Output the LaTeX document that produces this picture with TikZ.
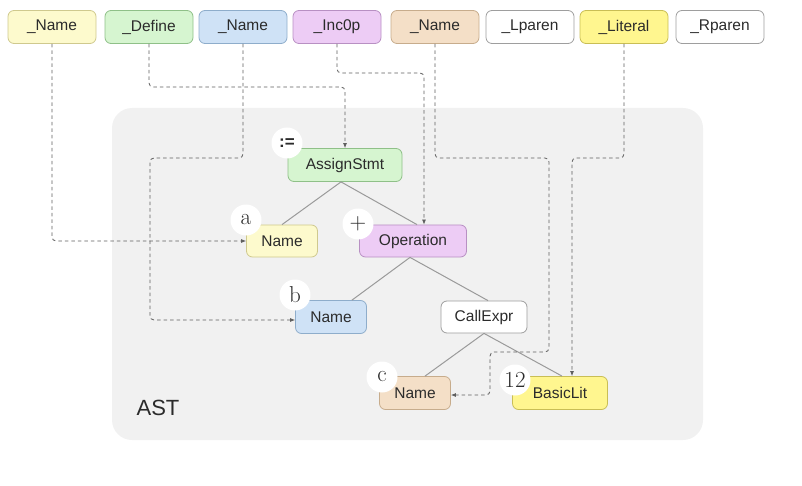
\documentclass[tikz,border=0pt]{standalone}
\usepackage{fontspec}
\newfontfamily\sansf{Liberation Sans}
\usetikzlibrary{arrows.meta,calc}
\definecolor{txt}{HTML}{2B2B2B}
\definecolor{bgc}{HTML}{F1F1F1}
\definecolor{ylf}{HTML}{FDFACD}\definecolor{yld}{HTML}{CFC98E}
\definecolor{grf}{HTML}{D6F5D0}\definecolor{grd}{HTML}{8FC088}
\definecolor{blf}{HTML}{CFE2F6}\definecolor{bld}{HTML}{8EADCB}
\definecolor{puf}{HTML}{EDCCF5}\definecolor{pud}{HTML}{B890C3}
\definecolor{pef}{HTML}{F4DFC7}\definecolor{ped}{HTML}{C7AC8C}
\definecolor{whd}{HTML}{9E9E9E}
\definecolor{ltf}{HTML}{FFF68F}\definecolor{ltd}{HTML}{C9BE55}
\definecolor{dashc}{HTML}{5E5E5E}
\definecolor{treec}{HTML}{9A9A9A}
\begin{document}
\begin{tikzpicture}[x=1pt,y=-1pt,
  box/.style={draw, rounded corners=6pt, line width=0.8pt, inner sep=0pt,
    font=\sansf\fontsize{15.5}{18}\selectfont, text=txt},
  tok/.style={box, minimum width=88pt, minimum height=33pt},
  yl/.style={fill=ylf, draw=yld}, gr/.style={fill=grf, draw=grd},
  bl/.style={fill=blf, draw=bld}, pu/.style={fill=puf, draw=pud},
  pe/.style={fill=pef, draw=ped}, wh/.style={fill=white, draw=whd},
  lt/.style={fill=ltf, draw=ltd},
  lbl/.style={circle, fill=white, minimum size=31pt, inner sep=0pt,
    font=\fontsize{23}{26}\selectfont, text=txt},
  link/.style={draw=dashc, line width=0.8pt, dash pattern=on 3.5pt off 3pt,
    rounded corners=4pt, -{Latex[length=5pt,width=4pt]}},
  tree/.style={draw=treec, line width=1pt}]
\useasboundingbox (0,0) rectangle (802,486);
\fill[bgc, rounded corners=20pt] (112,108) rectangle (703,440);
\node[font=\sansf\fontsize{22}{26}\selectfont, text=txt] (astl) at (158,408) {AST};

% tokens
\node[tok,yl] (t1) at (52,27) {\_Name};
\node[tok,gr] (t2) at (149,27) {\_Define};
\node[tok,bl] (t3) at (243,27) {\_Name};
\node[tok,pu] (t4) at (337,27) {\_Inc0p};
\node[tok,pe] (t5) at (435,27) {\_Name};
\node[tok,wh] (t6) at (530,27) {\_Lparen};
\node[tok,lt] (t7) at (624,27) {\_Literal};
\node[tok,wh] (t8) at (720,27) {\_Rparen};

% tree nodes
\node[box,gr,minimum width=114pt,minimum height=33pt] (as) at (345,165) {AssignStmt};
\node[box,yl,minimum width=71pt,minimum height=32pt] (na) at (282,241) {Name};
\node[box,pu,minimum width=107pt,minimum height=32pt] (op) at (413,241) {Operation};
\node[box,bl,minimum width=71pt,minimum height=33pt] (nb) at (331,317) {Name};
\node[box,wh,minimum width=86pt,minimum height=32pt] (ce) at (484,317) {CallExpr};
\node[box,pe,minimum width=71pt,minimum height=33pt] (nc) at (415,393) {Name};
\node[box,lt,minimum width=95pt,minimum height=33pt] (bs) at (560,393) {BasicLit};

% tree edges
\draw[tree] ([xshift=-4pt]as.south) -- (na.north);
\draw[tree] ([xshift=-4pt]as.south) -- ([xshift=4pt]op.north);
\draw[tree] ([xshift=-3pt]op.south) -- ([xshift=21pt]nb.north);
\draw[tree] ([xshift=-3pt]op.south) -- ([xshift=4pt]ce.north);
\draw[tree] (ce.south) -- ([xshift=10pt]nc.north);
\draw[tree] (ce.south) -- ([xshift=2pt]bs.north);

% routing coordinates
\coordinate (y73) at (0,73);
\coordinate (y87) at (0,87);
\coordinate (y158) at (0,158);
\coordinate (y352) at (0,352);
\coordinate (x150) at (150,0);
\coordinate (x424) at (424,0);
\coordinate (x549) at (549,0);
\coordinate (x490) at (490,0);
\coordinate (x572) at (572,0);

% dashed links
\draw[link] (t1.south) |- (na.west);
\draw[link] (t2.south) -- (t2.south |- y87) -- (as.north |- y87) -- (as.north);
\draw[link] (t3.south) -- (t3.south |- y158) -- (x150 |- y158) -- ([yshift=-3pt]x150 |- nb.west) -- ([yshift=-3pt]nb.west);
\draw[link] (t4.south) -- (t4.south |- y73) -- (x424 |- y73) -- (x424 |- op.north);
\draw[link] (t5.south) -- (t5.south |- y158) -- (x549 |- y158) -- (x549 |- y352) -- (x490 |- y352) -- ([yshift=-2pt]x490 |- nc.east) -- ([yshift=-2pt]nc.east);
\draw[link] (t7.south) -- (t7.south |- y158) -- (x572 |- y158) -- (x572 |- bs.north);

% labels
\node[lbl, font=\sansf\bfseries\fontsize{17}{20}\selectfont] (la) at (287,143) {:=};
\node[lbl] (lna) at (246,220) {a};
\node[lbl] (lop) at (358,224) {+};
\node[lbl] (lnb) at (295,295) {b};
\node[lbl] (lnc) at (382,377) {c};
\node[lbl] (lbs) at (515,380) {12};
\end{tikzpicture}
\end{document}
